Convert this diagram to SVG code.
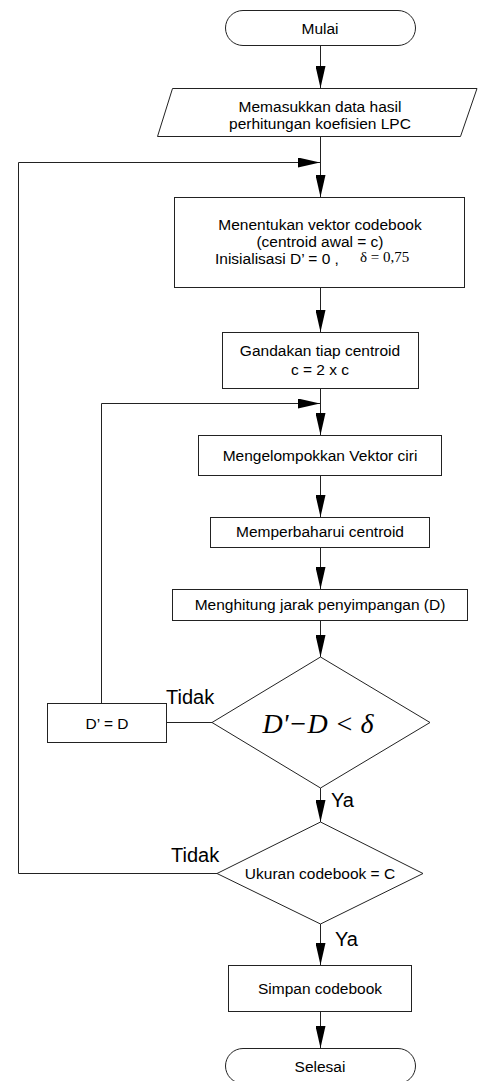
<svg xmlns="http://www.w3.org/2000/svg" width="478" height="1081" viewBox="0 0 478 1081">
<style>
.s{fill:#fff;stroke:#222;stroke-width:1}
.c{fill:none;stroke:#222;stroke-width:1}
.t{font-family:"Liberation Sans",Arial,sans-serif;font-size:15.5px;fill:#000;text-anchor:middle}
.l{font-family:"Liberation Sans",Arial,sans-serif;font-size:20px;fill:#000}
.m{font-family:"Liberation Serif","Times New Roman",serif;fill:#000}
</style>
<defs>
<marker id="a" markerUnits="userSpaceOnUse" markerWidth="22" markerHeight="10" refX="22" refY="5" orient="auto" viewBox="0 0 22 10">
<path d="M0,0 L22,5 L0,10 z" fill="#000"/>
</marker>
</defs>
<rect width="478" height="1081" fill="#fff"/>
<g id="connectors">
<path class="c" d="M320.5,45 V88" marker-end="url(#a)"/>
<path class="c" d="M320.5,136 V197" marker-end="url(#a)"/>
<path class="c" d="M217,873.5 H18.5 V162.5 H320" marker-end="url(#a)"/>
<path class="c" d="M320.5,287 V332" marker-end="url(#a)"/>
<path class="c" d="M320.5,388 V435" marker-end="url(#a)"/>
<path class="c" d="M101.5,703 V403.5 H320" marker-end="url(#a)"/>
<path class="c" d="M320.5,475 V517" marker-end="url(#a)"/>
<path class="c" d="M320.5,547 V589" marker-end="url(#a)"/>
<path class="c" d="M320.5,620 V657" marker-end="url(#a)"/>
<path class="c" d="M212,722.5 H166"/>
<path class="c" d="M320.5,788 V822" marker-end="url(#a)"/>
<path class="c" d="M320.5,924 V965" marker-end="url(#a)"/>
<path class="c" d="M320.5,1011 V1048" marker-end="url(#a)"/>
<text class="l" x="166" y="704">Tidak</text>
<text class="l" x="171" y="862">Tidak</text>
<text class="l" x="331" y="807">Ya</text>
<text class="l" x="335" y="946">Ya</text>
</g>
<g id="mulai">
<rect class="s" x="225.5" y="10.5" width="190" height="35" rx="17.5"/>
<text class="t" x="320" y="33.5">Mulai</text>
</g>
<g id="input">
<polygon class="s" points="172.5,88.5 477,88.5 460.5,136.5 157.5,136.5"/>
<text class="t" x="320" y="111.5">Memasukkan data hasil</text>
<text class="t" x="320" y="128.5">perhitungan koefisien LPC</text>
</g>
<g id="init">
<rect class="s" x="174.5" y="197.5" width="290" height="90"/>
<text class="t" x="320" y="229.5">Menentukan vektor codebook</text>
<text class="t" x="320" y="246.5">(centroid awal = c)</text>
<text class="t" x="215" y="264" style="text-anchor:start">Inisialisasi D’ = 0 ,</text>
<text class="m" x="360" y="261.5" font-size="15">δ = 0,75</text>
</g>
<g id="gandakan">
<rect class="s" x="222.5" y="332.5" width="196" height="56"/>
<text class="t" x="320" y="356">Gandakan tiap centroid</text>
<text class="t" x="320" y="375">c = 2 x c</text>
</g>
<g id="kelompok">
<rect class="s" x="198.5" y="435.5" width="243" height="40"/>
<text class="t" x="320" y="461">Mengelompokkan Vektor ciri</text>
</g>
<g id="perbaharui">
<rect class="s" x="210.5" y="517.5" width="219" height="30"/>
<text class="t" x="320" y="537">Memperbaharui centroid</text>
</g>
<g id="hitung">
<rect class="s" x="172.5" y="589.5" width="295" height="31"/>
<text class="t" x="320" y="610">Menghitung jarak penyimpangan (D)</text>
</g>
<g id="cek1">
<polygon class="s" points="320.5,657 430,722.5 320.5,788 212,722.5"/>
<text class="m" x="318" y="733" font-size="28" font-style="italic" text-anchor="middle">D'−D &lt; δ</text>
</g>
<g id="update">
<rect class="s" x="47.5" y="703.5" width="119" height="39"/>
<text class="t" x="107" y="728.5">D’ = D</text>
</g>
<g id="cek2">
<polygon class="s" points="320.5,822 423,873.5 320.5,924 217,873.5"/>
<text class="t" x="320" y="879">Ukuran codebook = C</text>
</g>
<g id="simpan">
<rect class="s" x="228.5" y="965.5" width="183" height="46"/>
<text class="t" x="320" y="994">Simpan codebook</text>
</g>
<g id="selesai">
<rect class="s" x="225.5" y="1048.5" width="190" height="35" rx="17.5"/>
<text class="t" x="320" y="1072">Selesai</text>
</g>
</svg>
